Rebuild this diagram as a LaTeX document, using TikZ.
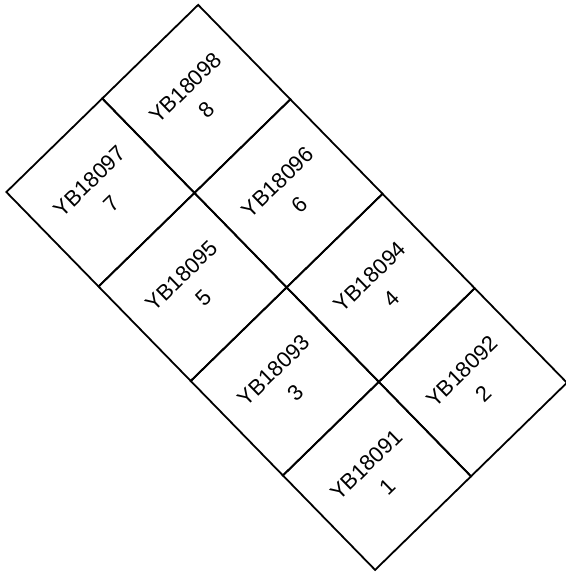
\documentclass[tikz,border=0pt]{standalone}
\usepackage{fontspec}
\setmainfont{Liberation Sans}
\usetikzlibrary{positioning}

\begin{document}
\begin{tikzpicture}[
  x=1bp, y=-1bp,
  node distance=0pt and 0pt,
  cell/.style={rectangle, draw=black, line width=1.8pt, rotate=44.3,
               minimum width=134bp, minimum height=132bp, outer sep=0pt,
               inner sep=0pt, align=center,
               font=\fontsize{22}{31}\selectfont}
]
\useasboundingbox (0,0) rectangle (566,576);
% Right column
\node[cell] (c8) at (196.3,98.9) {YB18098\\8};
\node[cell, below=of c8] (c6) {YB18096\\6};
\node[cell, below=of c6] (c4) {YB18094\\4};
\node[cell, below=of c4] (c2) {YB18092\\2};
% Left column
\node[cell, left=of c8] (c7) {YB18097\\7};
\node[cell, below=of c7] (c5) {YB18095\\5};
\node[cell, below=of c5] (c3) {YB18093\\3};
\node[cell, below=of c3] (c1) {YB18091\\1};
\end{tikzpicture}
\end{document}
